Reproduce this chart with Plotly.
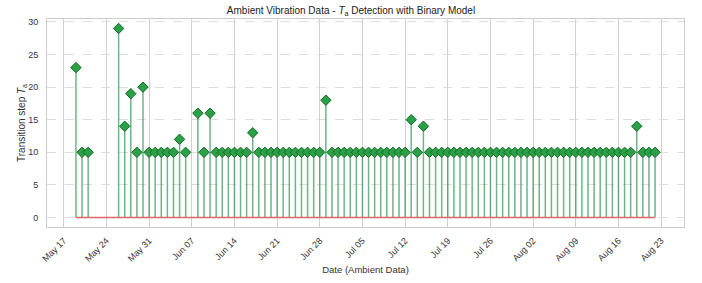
import plotly.graph_objects as go
import pandas as pd

# Data (daily observations; some days missing)
dates = (["2023-05-19", "2023-05-20", "2023-05-21"]
         + [str(d.date()) for d in pd.date_range("2023-05-26", "2023-06-06")]
         + [str(d.date()) for d in pd.date_range("2023-06-08", "2023-08-22")])

ta_values = ([23, 10, 10]
             + [29, 14, 19, 10, 20, 10, 10, 10, 10, 10, 12, 10]
             + [16, 10, 16, 10, 10, 10, 10, 10, 10, 13, 10, 10, 10, 10, 10, 10,
                10, 10, 10, 10, 10, 18, 10, 10, 10, 10, 10, 10, 10, 10, 10, 10,
                10, 10, 10, 15, 10, 14]
             + [10] * 34 + [14, 10, 10, 10, 10])

tick_dates = [str(d.date()) for d in pd.date_range("2023-05-17", "2023-08-23", freq="7D")]
tick_labels = [pd.Timestamp(d).strftime("%b %d") for d in tick_dates]

# stems built from data
stem_x, stem_y = [], []
for d, v in zip(dates, ta_values):
    stem_x += [d, d, None]
    stem_y += [0, v, None]

fig = go.Figure()
fig.add_trace(go.Scatter(x=stem_x, y=stem_y, mode="lines",
                         line=dict(color="rgba(34,139,70,0.65)", width=1.5),
                         hoverinfo="skip", showlegend=False))
fig.add_trace(go.Scatter(x=[dates[0], dates[-1]], y=[0, 0], mode="lines",
                         line=dict(color="#e06666", width=1.5), showlegend=False))
fig.add_trace(go.Scatter(x=dates, y=ta_values, mode="markers",
                         marker=dict(symbol="diamond", size=8, color="#2ca048",
                                     line=dict(color="#0f6b1f", width=1)),
                         showlegend=False))

font_family = "Liberation Sans, Arial, sans-serif"
fig.update_layout(
    width=702, height=283,
    margin=dict(l=47, r=18, t=19, b=56, autoexpand=False),
    paper_bgcolor="white", plot_bgcolor="white",
    font=dict(family=font_family, size=9, color="#333333"),
    title=dict(text="Ambient Vibration Data - <i>T</i><sub>a</sub> Detection with Binary Model",
               x=0.5, xanchor="center", y=0.962, yanchor="middle",
               font=dict(size=10, color="#222222")),
    xaxis=dict(type="date", automargin=False,
               range=["2023-05-14 06:00", "2023-08-26 18:00"],
               tickvals=tick_dates, ticktext=tick_labels, tickangle=-45,
               ticklabelstandoff=4,
               showgrid=True, gridcolor="#d0d0d0", gridwidth=1,
               showline=True, linecolor="#cccccc", mirror=True, linewidth=1,
               ticks="", zeroline=False,
               title=dict(text="Date (Ambient Data)", font=dict(size=9.5), standoff=3)),
    yaxis=dict(range=[-1.45, 30.45], automargin=False,
               tickvals=[0, 5, 10, 15, 20, 25, 30],
               ticklabelstandoff=6,
               showgrid=True, gridcolor="#dcdcdc", griddash="dash", gridwidth=1,
               showline=True, linecolor="#cccccc", mirror=True, linewidth=1,
               ticks="", zeroline=False,
               title=dict(text="Transition step <i>T</i><sub>a</sub>", font=dict(size=10), standoff=0)),
)

fig.write_html("out.html", config={"displayModeBar": False},
               post_script="document.body.style.margin='0';")
